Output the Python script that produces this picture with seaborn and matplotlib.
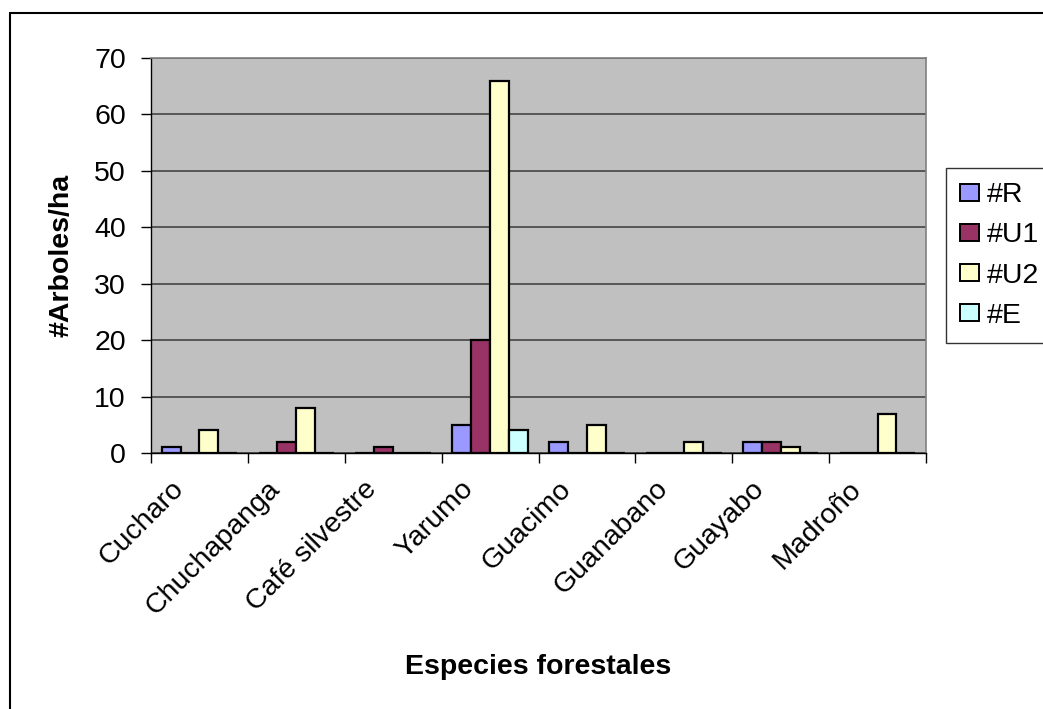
import matplotlib
matplotlib.use("Agg")
import matplotlib.pyplot as plt
from matplotlib.lines import Line2D
from matplotlib.transforms import ScaledTranslation
import seaborn as sns
import pandas as pd

especies = ["Cucharo", "Chuchapanga", "Café silvestre", "Yarumo",
            "Guacimo", "Guanabano", "Guayabo", "Madroño"]
r_vals = [1, 0, 0, 5, 2, 0, 2, 0]
u1_vals = [0, 2, 1, 20, 0, 0, 2, 0]
u2_vals = [4, 8, 0, 66, 5, 2, 1, 7]
e_vals = [0, 0, 0, 4, 0, 0, 0, 0]
series = ["#R", "#U1", "#U2", "#E"]
colores = ["#9999FF", "#993366", "#FFFFCC", "#CCFFFF"]

rows = []
for name, vals in zip(series, [r_vals, u1_vals, u2_vals, e_vals]):
    for esp, v in zip(especies, vals):
        rows.append({"Especie": esp, "Serie": name, "Valor": v})
df = pd.DataFrame(rows)

sns.set_theme(style="white")
plt.rcParams["font.family"] = ["Liberation Sans", "DejaVu Sans"]
FS = 20.5

W, H = 1043, 709
fig = plt.figure(figsize=(W / 100, H / 100), dpi=100)
ax = fig.add_axes([151 / W, 1 - 453 / H, (926 - 151) / W, (453 - 58) / H])

sns.barplot(data=df, x="Especie", y="Valor", hue="Serie", order=especies,
            hue_order=series, palette=colores, width=0.78, saturation=1,
            edgecolor="black", linewidth=1.6, ax=ax, legend=True)

ax.set_facecolor("#C0C0C0")
ax.set_ylim(0, 70)
ax.set_xlim(-0.5, len(especies) - 0.5)
ax.set_yticks(range(0, 71, 10))
ax.yaxis.grid(True, color="#3a3a3a", linewidth=1.1)
ax.set_axisbelow(True)

ax.tick_params(axis="y", which="major", direction="out", length=7, width=1,
               color="black", labelsize=FS, pad=11, left=True,
               labelcolor="black")
ax.set_xticks(range(len(especies)))
ax.set_xticklabels(especies, rotation=45, ha="right", va="center",
                   rotation_mode="anchor", fontsize=FS, color="black")
ax.tick_params(axis="x", which="major", length=0, pad=23)
shift = ScaledTranslation(-20 / 100, 0, fig.dpi_scale_trans)
for lbl in ax.get_xticklabels():
    lbl.set_transform(lbl.get_transform() + shift)
ax.set_xticks([i - 0.5 for i in range(len(especies) + 1)], minor=True)
ax.tick_params(axis="x", which="minor", direction="out", length=7, width=1,
               color="black", bottom=True)

for side in ["left", "bottom"]:
    ax.spines[side].set_color("black")
    ax.spines[side].set_linewidth(1)
for side in ["top", "right"]:
    ax.spines[side].set_color("#808080")
    ax.spines[side].set_linewidth(1.2)

ax.set_ylabel("#Arboles/ha", fontsize=FS, fontweight="bold", color="black")
ax.yaxis.set_label_coords((61 - 151) / (926 - 151), 0.5)
ax.yaxis.label.set_va("center")
ax.set_xlabel("Especies forestales", fontsize=FS, fontweight="bold",
              color="black")
ax.xaxis.set_label_coords(0.5, (453 - 667) / (453 - 58))
ax.xaxis.label.set_va("center")

handles, labels = ax.get_legend_handles_labels()
ax.get_legend().remove()
leg = fig.legend(handles, labels, loc="upper left",
                 bbox_to_anchor=(946 / W, 1 - 168 / H),
                 frameon=True, fontsize=FS, handlelength=0.65, handleheight=0.55,
                 handletextpad=0.3, labelspacing=0.5, borderpad=0.5,
                 borderaxespad=0, fancybox=False, labelcolor="black")
leg.get_frame().set_edgecolor("black")
leg.get_frame().set_linewidth(1)
for h in leg.legend_handles:
    h.set_linewidth(1.4)

# border of the chart area (left and top edges)
fig.add_artist(Line2D([10 / W, 10 / W], [0, 1 - 13 / H],
                      transform=fig.transFigure, color="black", linewidth=1.5))
fig.add_artist(Line2D([10 / W, 1], [1 - 13 / H, 1 - 13 / H],
                      transform=fig.transFigure, color="black", linewidth=1.5))

fig.savefig("out.png", dpi=100)
